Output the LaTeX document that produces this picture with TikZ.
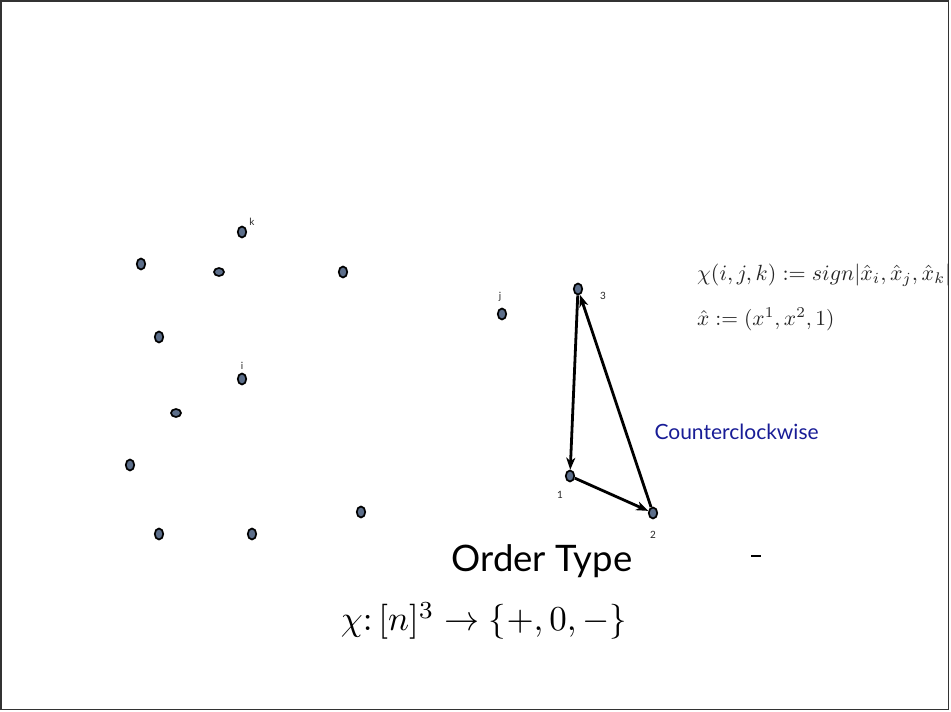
\documentclass[tikz,border=0pt]{standalone}
\usepackage{graphicx}
\usepackage{fontspec}
\newfontfamily\gill{Lato}
\usetikzlibrary{shapes.geometric,arrows.meta}
\definecolor{ptfill}{RGB}{92,110,138}
\definecolor{ccwblue}{RGB}{24,28,150}
\tikzset{
  pt/.style={ellipse,draw=black,line width=1.7pt,fill=ptfill,minimum width=8.5pt,minimum height=11pt,inner sep=0pt},
  flat/.style={pt,minimum width=10pt,minimum height=8pt},
  lbl/.style={font=\gill\fontsize{10}{11}\selectfont,text=black!85},
  arr/.style={-{Stealth[length=12pt,width=9pt,inset=3.5pt]},line width=2.8pt}
}
\begin{document}
\begin{tikzpicture}[x=1pt,y=-1pt]
  \useasboundingbox (0,0) rectangle (951,712);
  \draw[line width=1.5pt,black!80] (1,1) rectangle (948.5,709.5);
  % left point set
  \node[pt] (pk) at (242,232) {};
  \node[pt] (pa) at (141,264) {};
  \node[flat] (pb) at (219,272) {};
  \node[pt] (pc) at (343,272) {};
  \node[pt] (pd) at (159,337) {};
  \node[pt] (pi) at (242,379) {};
  \node[flat] (pe) at (176,413) {};
  \node[pt] (pf) at (130,465) {};
  \node[pt] (pg) at (361,512) {};
  \node[pt] (ph) at (159,534) {};
  \node[pt] (pl) at (252,534) {};
  \node[pt] (pj) at (502,314) {};
  \node[lbl] (lk) at (252,222) {k};
  \node[lbl] (li) at (242,366) {i};
  \node[lbl] (lj) at (500,297) {j};
  % triangle
  \node[pt] (p3) at (578,289) {};
  \node[pt] (p1) at (570,476) {};
  \node[pt] (p2) at (653,513) {};
  \node[lbl] (l3) at (603,296) {3};
  \node[lbl] (l1) at (560,495) {1};
  \node[lbl] (l2) at (653,535) {2};
  \draw[arr] (p3) -- (p1);
  \draw[arr] (p1) -- (p2);
  \draw[arr] (p2) -- (p3);
  \node[font=\gill\fontsize{21}{24}\selectfont,text=ccwblue,anchor=west] (ccw) at (651,432) {Counterclockwise};
  % formulas
  \node[anchor=base west,inner sep=0pt,text=black!85] (chidef) at (697,280)
    {\scalebox{2.2}{$\chi(i,j,k) := sign|\hat{x}_i,\hat{x}_j,\hat{x}_k|$}};
  \node[anchor=base west,inner sep=0pt,text=black!85] (xhat) at (697,325)
    {\scalebox{2.15}{$\hat{x} := (x^1,x^2,1)$}};
  \node[font=\gill\fontsize{36.5}{42}\selectfont] (title) at (542,561) {Order Type};
  \node (chimap) at (484,621) {\scalebox{3.5}{$\chi\colon[n]^3\to\{+,0,-\}$}};
  \draw[line width=1.5pt] (751,556) -- (761,556);
\end{tikzpicture}
\end{document}
